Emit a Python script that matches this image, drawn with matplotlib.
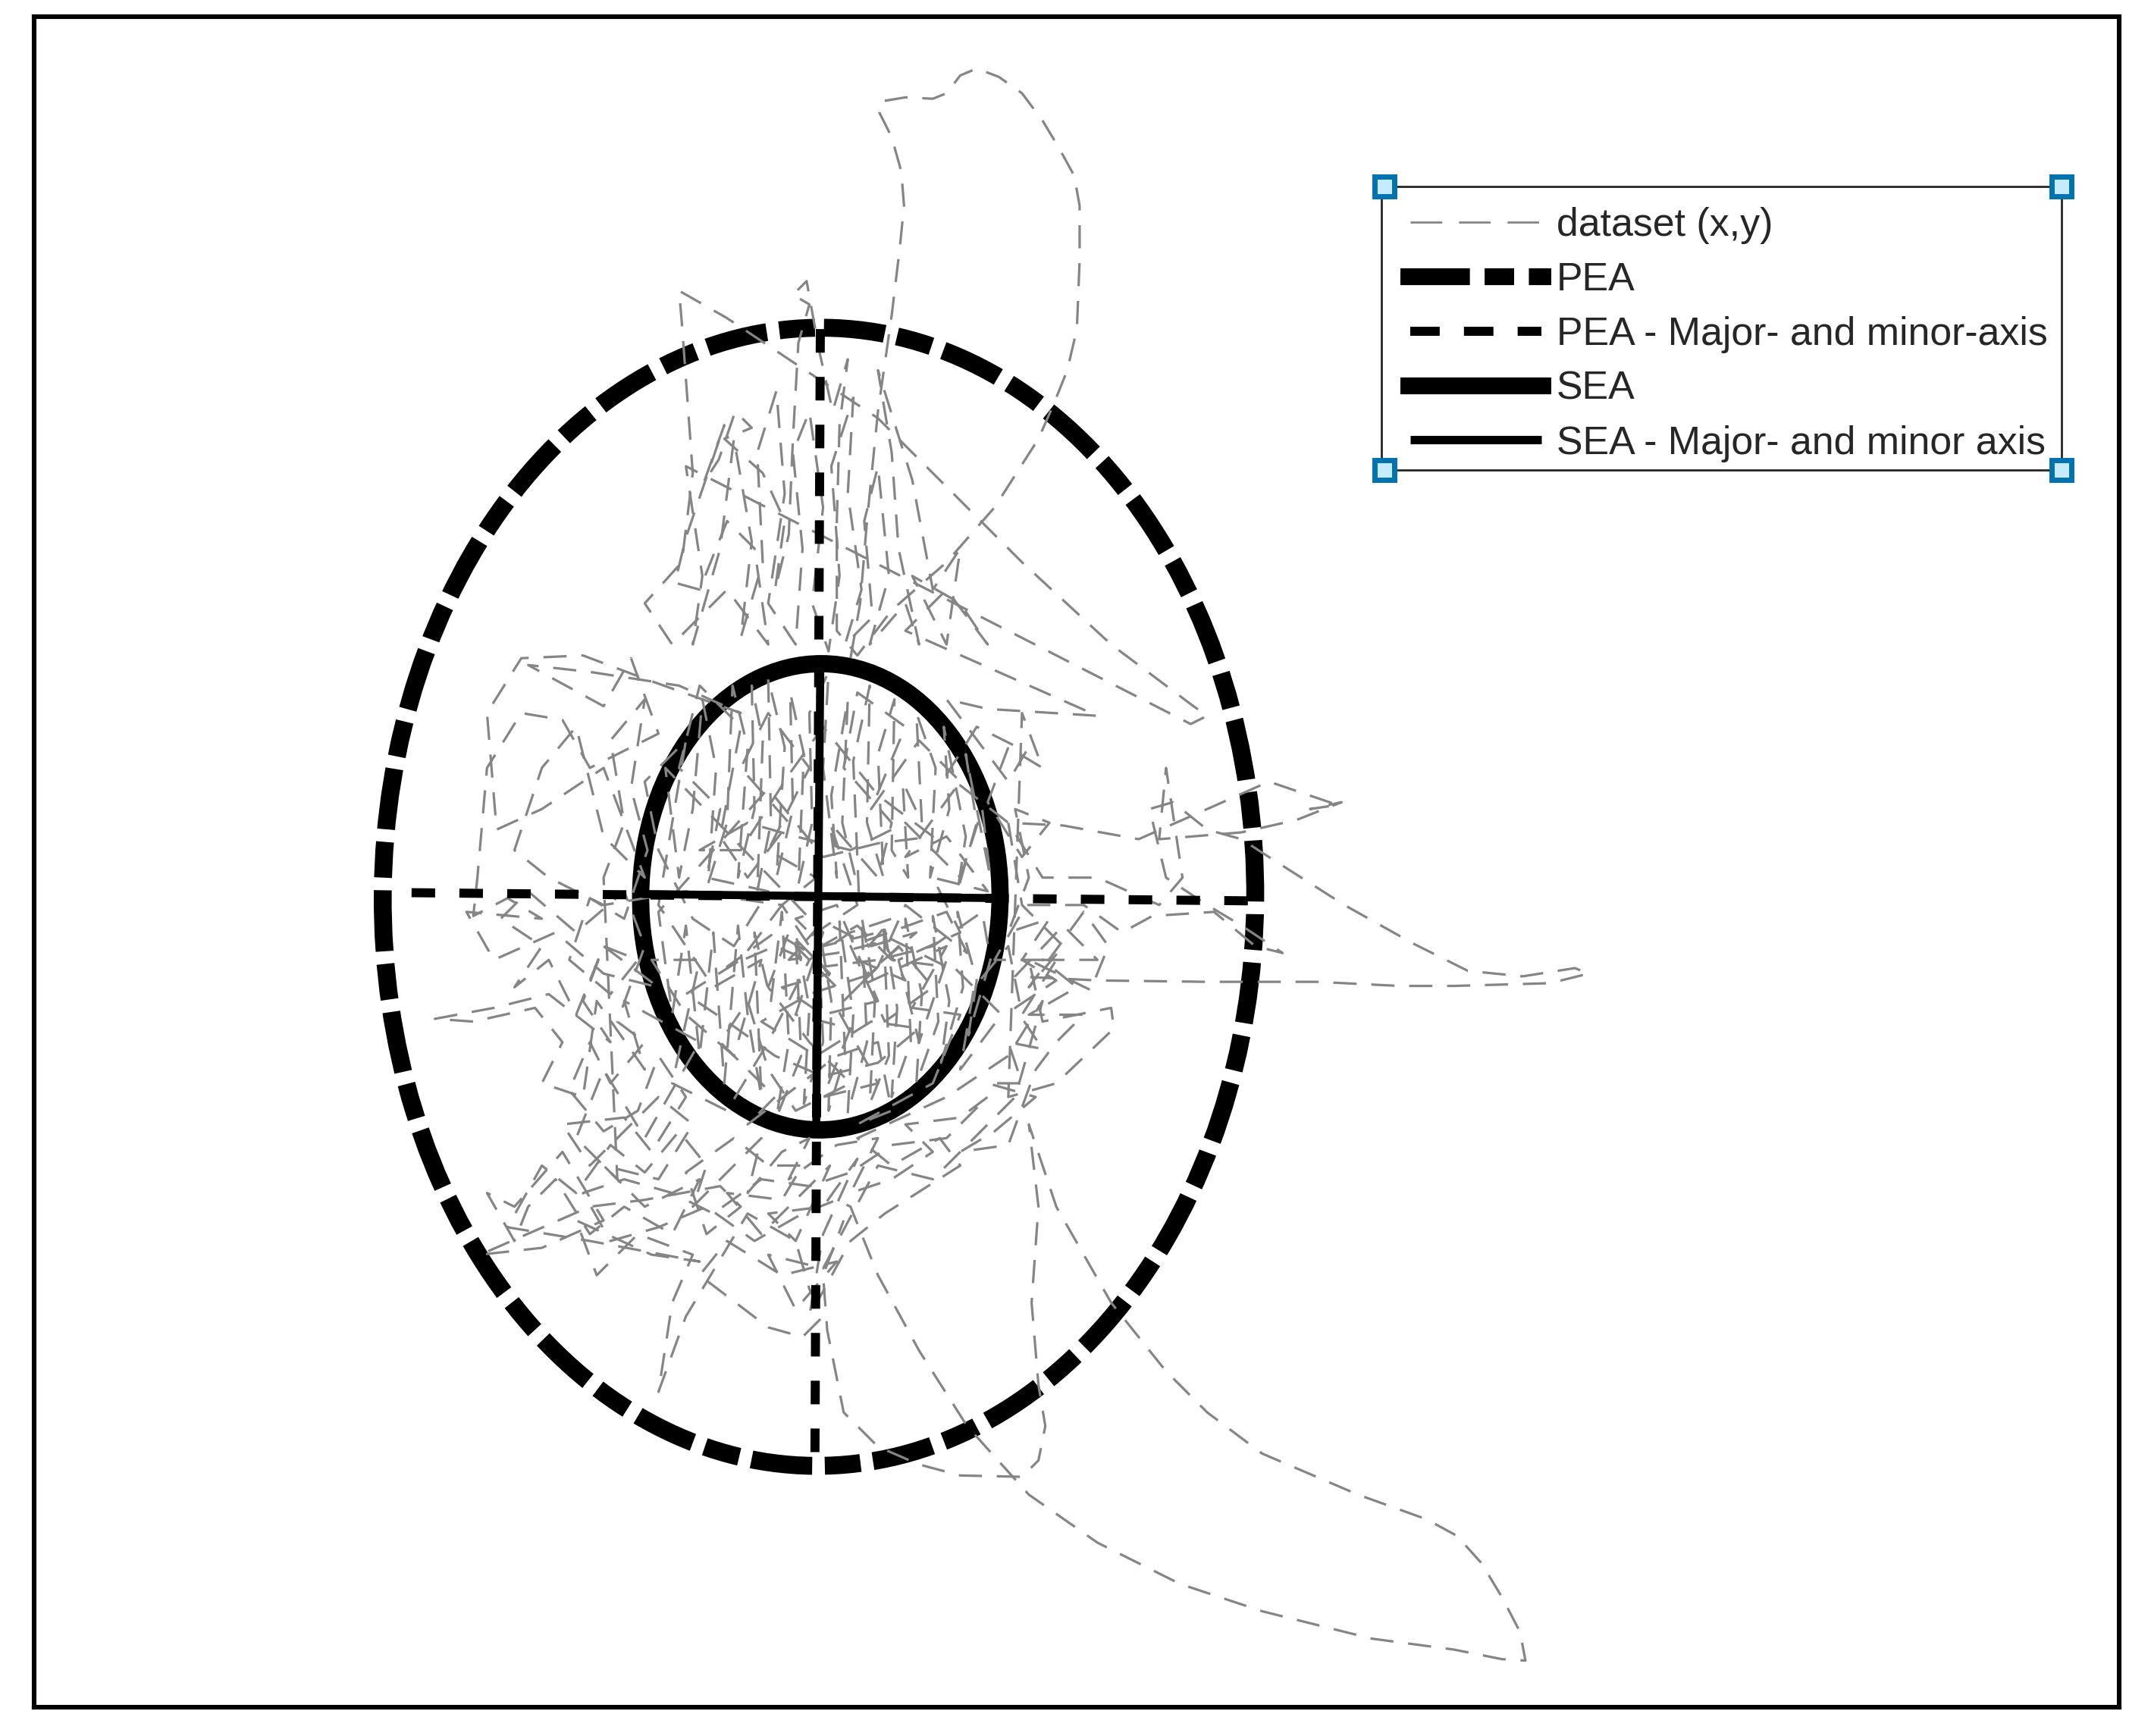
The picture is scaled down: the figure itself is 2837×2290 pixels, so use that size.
#%% --preamble--
import numpy as np
import matplotlib
matplotlib.use("Agg")
import matplotlib.pyplot as plt
from matplotlib.lines import Line2D
from matplotlib.legend_handler import HandlerLine2D
from matplotlib.patches import Ellipse, Rectangle

plt.rcParams["font.family"] = ["Liberation Sans", "DejaVu Sans"]
plt.rcParams["lines.scale_dashes"] = False

#%% --data (x,y in plot units, y pointing down)--
top_loop = [(620,480),(627,440),(632,380),(640,300),(650,230),(656,180),(659,150),(657,125),(650,100),(641,82),(642,74),
            (660,71),(680,72),(690,68),(700,55),(712,50),(728,56),(745,68),(760,88),(772,108),(783,128),(787,150),(787,190),
            (785,240),(778,270),(768,295),(757,320),(725,370),(690,410),(650,445),(625,478)]
upper_cloud = [(610,460),(610,380),(612,310),(618,262),(607,300),(597,255),(588,205),(578,215),(590,222),
               (582,250),(578,320),(575,390),(565,430),(572,380),(556,345),(528,320),(548,312),(536,300),
               (524,335),(513,352),(528,310),(500,392),(492,425),(510,430),(530,380),(550,400),(560,470),
               (530,430),(490,470),(470,440),(497,410),(505,345),(497,235),(495,212),(530,232),(575,262),
               (640,305),(690,355),(745,410),(810,470),(870,515),(880,522),(868,528)]
upper_dense = [(500,340),(512,420),(505,470),(525,400),(535,320),(548,395),(540,465),(556,410),(552,330),(566,285),(572,360),
               (560,440),(580,470),(585,400),(578,330),(590,300),(600,370),(592,440),(604,475),(612,420),(606,340),(622,290),
               (618,360),(628,430),(616,470),(636,450),(630,380),(640,340),(648,420),(634,470),(660,440),(670,470),(655,400),
               (650,330),(640,270),(665,350),(680,430),(700,400),(690,470),(665,420),(700,440),(720,470),(690,430),(660,460)]
right_cloud = [(800,522),(720,517),(690,510),(735,570),(748,548),(712,530),(690,565),(735,600),(775,602),
               (830,612),(880,590),(925,570),(975,587),(955,590),(978,585),(945,598),(905,607),(845,612),
               (850,560),(862,640),(845,660),(800,640),(760,640),(735,600),(745,660),(775,690),(750,720),
               (790,665),(808,690),(795,722),(750,700),(760,745),(810,735),(812,750),(770,790),(735,800)]
right_dense = [(745,520),(760,560),(735,545),(720,585),(745,625),(765,600),(740,590),(750,640),(735,680),(765,670),(745,700),
               (770,715),(740,735),(760,765),(735,760),(745,790),(720,790),(755,800),(725,825),(700,840),(735,835),(755,780),
               (770,760),(790,740),(750,740),(785,720),(760,700),(800,700),(775,675)]
right_spike = [(740,712),(800,715),(880,716),(960,716),(1020,719),(1060,719),(1095,718),(1130,717),(1158,710),(1148,706),(1110,712),
               (1070,708),(1030,688),(980,660),(925,625),(905,612),(880,605),(855,585)]
mid_cross = [(838,590),(850,640),(880,660),(905,675),(935,695),(915,690),(885,665),(840,668),(818,680),(790,660),
             (748,660),(725,700),(770,700),(745,740),(735,690),(710,720),(700,780),(730,740),(690,700),(670,760),
             (655,700),(700,680),(680,640),(720,650),(690,610),(660,625),(700,570),(670,540),(635,590),(660,530),
             (625,505),(615,560),(650,600),(640,640),(605,600),(625,660),(580,690),(610,720),(570,660),(595,640),
             (560,620),(590,560),(560,520),(540,560),(575,600),(545,640),(525,610),(540,530),(510,500),(495,560),
             (525,590),(515,640),(560,650),(535,690),(505,670),(480,620),(470,570),(500,540),(480,660),(520,720),
             (555,700),(535,770),(500,740),(475,700),(510,700),(490,790),(530,810),(560,760),(590,700),(620,680),
             (650,670),(625,700),(660,715),(640,680),(600,690),(580,670),(610,660),(640,730),(600,740),(570,720),
             (605,710),(575,680),(560,720),(590,760),(620,790),(580,810),(560,780),(545,730),(525,760),(565,800),
             (545,820),(610,770),(640,760),(650,810),(625,820),(680,790),(700,740),(665,735),(690,690),(625,720),
             (655,690),(680,720),(645,745),(620,690),(690,665),(705,695),(660,660),(640,705),(610,735),(640,790),
             (600,800),(620,750),(580,740),(600,680)]
center_upper = [(485,560),(495,640),(505,590),(512,510),(522,560),(516,645),(530,600),(534,500),(545,545),(538,640),(550,590),
                (548,500),(556,540),(552,650),(562,600),(560,495),(572,545),(566,640),(578,590),(576,505),(586,550),(582,645),
                (592,600),(590,520),(604,490),(600,560),(610,640),(606,580),(618,510),(614,600),(626,650),(622,555),(634,500),
                (632,600),(644,640),(640,550),(652,510),(650,620),(662,640),(658,570),(672,600),(668,520),(682,560),(678,640),
                (692,590),(688,530),(704,610),(698,650),(712,600),(704,550),(722,640),(716,590),(700,640),(660,600),(620,620),
                (580,610),(545,600),(510,620),(540,620),(575,565),(600,530),(640,580),(680,610),(640,615),(600,625),(560,575)]
center_lower = [(480,665),(490,740),(500,675),(510,770),(520,680),(528,790),(538,675),(545,740),(555,800),(550,680),(562,730),
                (570,665),(575,760),(566,815),(584,770),(580,680),(590,735),(586,805),(600,760),(596,670),(606,730),(604,810),
                (616,770),(612,672),(622,740),(618,812),(632,760),(628,668),(638,725),(634,805),(648,770),(644,672),(654,735),
                (650,800),(664,760),(660,670),(672,725),(668,790),(684,745),(680,668),(692,730),(686,775),(702,720),(698,665),
                (712,715),(706,755),(722,700),(716,665),(680,690),(640,700),(600,705),(565,690),(530,705),(565,680),(590,695),
                (625,675),(650,700),(690,705),(650,685),(610,695),(575,700),(600,672),(635,690),(668,680),(630,712),(590,725),
                (555,745),(595,770),(635,745),(670,750),(640,775),(600,785),(565,770),(530,745),(500,725),(540,700)]
left_cloud = [(570,660),(500,650),(440,660),(400,640),(375,620),(395,560),(420,530),(440,610),(470,640),(440,560),
              (395,590),(362,605),(355,520),(380,480),(425,478),(470,495),(540,520),(495,500),(430,490),(385,485),
              (440,515),(460,480),(480,535),(430,560),(410,525),(380,520),(355,560),(348,640),(345,668),(370,655),
              (395,670),(340,665),(360,700),(405,680),(440,710),(480,720),(440,690),(425,730),(445,760),(400,725),
              (360,735),(317,743),(345,745),(390,735),(410,760),(395,790),(425,800),(435,730),(470,780),(455,730),
              (510,760),(470,830),(440,780),(420,830),(450,860)]
left_dense = [(440,640),(455,600),(445,540),(470,510),(460,575),(472,620),(455,670),(430,655),(415,700),(445,725),(465,700),
              (440,690),(420,740),(400,700),(375,720),(395,690),(365,670),(385,650),(420,680),(455,650),(470,690),(450,745),
              (470,760),(445,790),(430,760),(415,795),(440,825),(465,810),(480,770),(500,800),(475,840),(455,815),(410,820)]
lower_cloud = [(430,850),(480,800),(505,820),(480,860),(440,850),(470,880),(510,860),(490,900),(455,880),(430,900),
               (405,860),(385,880),(375,905),(355,870),(375,880),(410,840),(440,890),(395,910),(350,915),(430,880),
               (470,875),(525,865),(540,880),(515,900),(500,855),(535,830),(560,850),(585,850),(570,875),(530,870),
               (555,900),(605,850),(580,905),(560,885),(600,880),(625,845),(600,900),(590,960),(620,905),(645,885),
               (700,850),(685,830),(650,850),(625,830),(690,800),(735,770),(760,730),(740,800),(680,860),(640,850),
               (600,925),(560,915),(580,955),(610,920),(570,930),(530,905),(510,930),(560,968),(585,975),(600,960),
               (590,940),(580,905),(545,885),(500,960),(480,1015),(490,950),(505,915),(465,900),(435,930),(420,890),
               (475,915),(510,920),(430,905),(370,895)]
lower_dense = [(395,850),(420,870),(445,835),(470,855),(495,825),(515,850),(505,880),(535,850),(555,830),(545,870),(570,840),
               (590,830),(575,860),(610,835),(640,830),(620,870),(650,860),(680,840),(660,820),(700,815),(720,800),(690,830),
               (650,835),(620,855),(590,865),(555,860),(520,885),(490,870),(455,860),(425,870),(445,905),(480,895),(515,880),
               (550,905),(585,885),(610,875)]
tail = [(620,880),(640,930),(670,985),(705,1040),(750,1090),(800,1125),(860,1155),(920,1175),(1000,1195),(1060,1203),
        (1095,1210),(1112,1211),(1108,1190),(1095,1165),(1080,1140),(1062,1120),(1040,1108),(990,1090),(920,1060),(880,1030),(850,1000),(810,950),(770,880),(750,820),
        (757,880),(752,950),(757,1010),(762,1040),(757,1065),(745,1077),(700,1076),(670,1068),(640,1055),(615,1030),
        (603,970),(600,930),(615,890)]

sea_center, sea_axes_len = (598, 654), (262, 340)
pea_center, pea_axes_len = (597, 654), (636, 830)
tilt_deg = 0.5
pea_major_x, pea_major_y = [598, 594], [240, 1072]
pea_minor_x, pea_minor_y = [300, 915], [651, 657]
sea_major_x, sea_major_y = [598, 595], [484, 824]
sea_minor_x, sea_minor_y = [468, 730], [652, 655]

legend_labels = ["dataset (x,y)", "PEA", "PEA - Major- and minor-axis", "SEA", "SEA - Major- and minor axis"]
box_x, box_y, box_w, box_h = 1007, 136, 496, 207
box_corner_x = [1009, 1503, 1009, 1503]
box_corner_y = [136, 136, 343, 343]

#%% --figure, one plot unit is one pixel of the preview--
W, H = 1568, 1266
fig = plt.figure(figsize=(2837/200, 2290/200), dpi=200)
ax = fig.add_axes([25/W, 1-1245/H, 1520/W, 1233/H])
ax.set_xlim(25, 1545)
ax.set_ylim(1245, 12)
ax.set_xticks([]); ax.set_yticks([])
for s in ax.spines.values():
    s.set_linewidth(2.2)

gray = "#858585"
data_dash = (0, (11, 7))
pea_dash = (0, (29, 6, 17, 6))
axis_dash = (0, (11.2, 11.5))

path = np.array(top_loop + upper_cloud + upper_dense + right_cloud + right_dense + right_spike + mid_cross
                + center_upper + center_lower + left_cloud + left_dense + lower_cloud + lower_dense + tail)
ax.plot(path[:,0], path[:,1], color=gray, lw=1.15, ls=data_dash)

ax.add_patch(Ellipse(pea_center, *pea_axes_len, angle=tilt_deg, fill=False, ec="k", lw=8.5, ls=pea_dash))
ax.plot(pea_major_x, pea_major_y, color="k", lw=4.3, ls=axis_dash, dash_capstyle="butt")
ax.plot(pea_minor_x, pea_minor_y, color="k", lw=4.3, ls=axis_dash, dash_capstyle="butt")
ax.add_patch(Ellipse(sea_center, *sea_axes_len, angle=tilt_deg, fill=False, ec="k", lw=8.2))
ax.plot(sea_major_x, sea_major_y, color="k", lw=3.8, solid_capstyle="butt")
ax.plot(sea_minor_x, sea_minor_y, color="k", lw=3.8, solid_capstyle="butt")

#%% --legend--
h_data = Line2D([], [], color=gray, lw=1.0, ls=(0, (15, 8)))
h_pea = Line2D([], [], color="k", lw=8, ls=(0, (33, 7, 14, 7)))
h_pea_ax = Line2D([], [], color="k", lw=4.3, ls=(0, (14, 11.5)))
h_sea = Line2D([], [], color="k", lw=8, solid_capstyle="butt")
h_sea_ax = Line2D([], [], color="k", lw=4, solid_capstyle="butt")
thick = HandlerLine2D(ypad=-0.105)
thin = HandlerLine2D(ypad=-0.105, numpoints=2, marker_pad=0.25)
ax.add_patch(Rectangle((box_x, box_y), box_w, box_h, fc="w", ec="#262626", lw=1.0, zorder=4.5))
leg = ax.legend([h_data, h_pea, h_pea_ax, h_sea, h_sea_ax], legend_labels, loc="upper left",
                bbox_to_anchor=(1011, 141), bbox_transform=ax.transData, borderaxespad=0, fontsize=18.7,
                frameon=False, labelcolor="#262626", handlelength=3.83, handletextpad=0.12,
                labelspacing=0.44, borderpad=0.35,
                handler_map={h_data: thin, h_pea: thick, h_pea_ax: thin, h_sea: thick, h_sea_ax: thin})
ax.plot(box_corner_x, box_corner_y, ls="none", marker="s", ms=9.3, mec="#0072ae", mew=2.5,
        mfc="#c5ebff", zorder=6, clip_on=False)

fig.savefig("out.png", dpi=200)
